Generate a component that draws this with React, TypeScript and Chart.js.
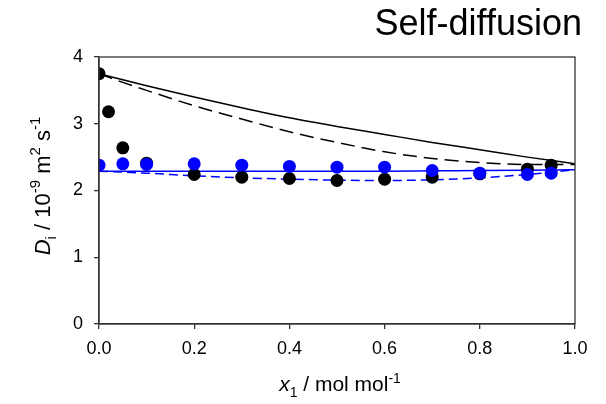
import React, { useEffect, useRef } from "react";
import { Chart, registerables } from "chart.js";

Chart.register(...registerables);

// Experimental data (x1, D_i)
const expX = [0, 0.02, 0.05, 0.1, 0.2, 0.3, 0.4, 0.5, 0.6, 0.7, 0.8, 0.9, 0.95];
const expBlack = [3.75, 3.18, 2.64, 2.41, 2.24, 2.2, 2.18, 2.15, 2.17, 2.2, 2.25, 2.32, 2.38];
const expBlueX = [0, 0.05, 0.1, 0.2, 0.3, 0.4, 0.5, 0.6, 0.7, 0.8, 0.9, 0.95];
const expBlue = [2.38, 2.4, 2.39, 2.4, 2.38, 2.36, 2.35, 2.35, 2.3, 2.26, 2.24, 2.26];

// Model curves
const curveX = [0, 0.05, 0.1, 0.2, 0.3, 0.4, 0.5, 0.6, 0.7, 0.8, 0.9, 1.0];
const blackSolid = [3.75, 3.66, 3.57, 3.4, 3.24, 3.09, 2.96, 2.84, 2.72, 2.61, 2.5, 2.4];
const blackDashed = [3.75, 3.62, 3.5, 3.27, 3.07, 2.88, 2.72, 2.58, 2.48, 2.42, 2.39, 2.39];
const blueSolid = [2.29, 2.29, 2.29, 2.29, 2.29, 2.29, 2.29, 2.29, 2.295, 2.3, 2.305, 2.31];
const blueDashed = [2.29, 2.275, 2.26, 2.22, 2.19, 2.17, 2.155, 2.15, 2.16, 2.19, 2.24, 2.31];

const xTicks = [0, 0.2, 0.4, 0.6, 0.8, 1.0];
const yTicks = [0, 1, 2, 3, 4];

const title = "Self-diffusion";

const pts = (xs: number[], ys: number[]) => xs.map((x, i) => ({ x, y: ys[i] }));

type Seg = { t: string; it?: boolean; sub?: boolean; sup?: boolean };

function drawRich(ctx: CanvasRenderingContext2D, segs: Seg[], cx: number, cy: number, size: number) {
  const fam = "'Liberation Sans', Arial, sans-serif";
  const small = Math.round(size * 0.68);
  const fontOf = (s: Seg) => `${s.it ? "italic " : ""}${s.sub || s.sup ? small : size}px ${fam}`;
  let total = 0;
  const widths = segs.map((s) => {
    ctx.font = fontOf(s);
    const w = ctx.measureText(s.t).width;
    total += w;
    return w;
  });
  let x = cx - total / 2;
  ctx.textBaseline = "alphabetic";
  ctx.textAlign = "left";
  const base = cy + size * 0.35;
  segs.forEach((s, i) => {
    ctx.font = fontOf(s);
    let y = base;
    if (s.sub) y = base + size * 0.28;
    if (s.sup) y = base - size * 0.42;
    ctx.fillText(s.t, x, y);
    x += widths[i];
  });
}

const decor = {
  id: "decor",
  afterDraw(chart: any) {
    const { ctx, chartArea } = chart;
    ctx.save();
    ctx.strokeStyle = "#333";
    ctx.lineWidth = 1.3;
    ctx.strokeRect(chartArea.left, chartArea.top, chartArea.right - chartArea.left, chartArea.bottom - chartArea.top);
    ctx.fillStyle = "#000";
    // title
    ctx.font = "36px 'Liberation Sans', Arial, sans-serif";
    ctx.textAlign = "right";
    ctx.textBaseline = "alphabetic";
    ctx.fillText(title, 582, 35);
    // x label
    drawRich(
      ctx,
      [{ t: "x", it: true }, { t: "1", sub: true }, { t: " / mol mol" }, { t: "-1", sup: true }],
      (chartArea.left + chartArea.right) / 2 + 3,
      384,
      21
    );
    // y label
    ctx.translate(42, 186);
    ctx.rotate(-Math.PI / 2);
    drawRich(
      ctx,
      [
        { t: "D", it: true },
        { t: "i", sub: true },
        { t: " / 10" },
        { t: "-9", sup: true },
        { t: " m" },
        { t: "2", sup: true },
        { t: " s" },
        { t: "-1", sup: true },
      ],
      0,
      0,
      22
    );
    ctx.restore();
  },
};

export default function App() {
  const ref = useRef<HTMLCanvasElement>(null);
  useEffect(() => {
    if (!ref.current) return;
    const lineDs = (data: number[], color: string, dash: number[]) => ({
      type: "line" as const,
      data: pts(curveX, data),
      borderColor: color,
      borderWidth: 1.5,
      borderDash: dash,
      pointRadius: 0,
      showLine: true,
      fill: false,
      order: 5,
      cubicInterpolationMode: "monotone" as const,
    });
    const chart = new Chart(ref.current, {
      type: "scatter",
      data: {
        datasets: [
          lineDs(blackSolid, "#000", []),
          lineDs(blackDashed, "#000", [14, 7]),
          lineDs(blueSolid, "#0000ff", []),
          lineDs(blueDashed, "#0000ff", [9, 5]),
          {
            data: pts(expX, expBlack),
            backgroundColor: "#000",
            borderColor: "#000",
            pointRadius: 6.5,
            borderWidth: 0,
            order: 2,
          } as any,
          {
            data: pts(expBlueX, expBlue),
            backgroundColor: "#0000ff",
            borderColor: "#0000ff",
            pointRadius: 6.5,
            borderWidth: 0,
            order: 1,
          } as any,
        ],
      },
      options: {
        animation: false,
        responsive: false,
        events: [],
        layout: { padding: { top: 57, right: 31, left: 0, bottom: 0 } },
        plugins: { legend: { display: false }, tooltip: { enabled: false }, title: { display: false } },
        scales: {
          x: {
            type: "linear",
            min: 0,
            max: 1,
            afterFit: (s: any) => {
              s.height = 80;
            },
            afterBuildTicks: (s: any) => {
              s.ticks = xTicks.map((v) => ({ value: v }));
            },
            grid: { drawOnChartArea: false, tickLength: 5, color: "#333", lineWidth: 1.3 },
            border: { display: true, color: "#333", width: 1.3 },
            ticks: {
              color: "#000",
              padding: 9,
              font: { family: "'Liberation Sans', Arial, sans-serif", size: 18 },
              callback: (v: any) => Number(v).toFixed(1),
            },
          },
          y: {
            type: "linear",
            min: 0,
            max: 4,
            afterFit: (s: any) => {
              s.width = 99;
            },
            afterBuildTicks: (s: any) => {
              s.ticks = yTicks.map((v) => ({ value: v }));
            },
            grid: { drawOnChartArea: false, tickLength: 5, color: "#333", lineWidth: 1.3 },
            border: { display: true, color: "#333", width: 1.3 },
            ticks: {
              color: "#000",
              padding: 11,
              font: { family: "'Liberation Sans', Arial, sans-serif", size: 18 },
              callback: (v: any) => String(v),
            },
          },
        },
      },
      plugins: [decor],
    });
    return () => chart.destroy();
  }, []);
  return (
    <div style={{ position: "absolute", left: 0, top: 0, width: 606, height: 404, background: "#fff" }}>
      <canvas ref={ref} width={606} height={404} style={{ width: 606, height: 404 }} />
    </div>
  );
}
